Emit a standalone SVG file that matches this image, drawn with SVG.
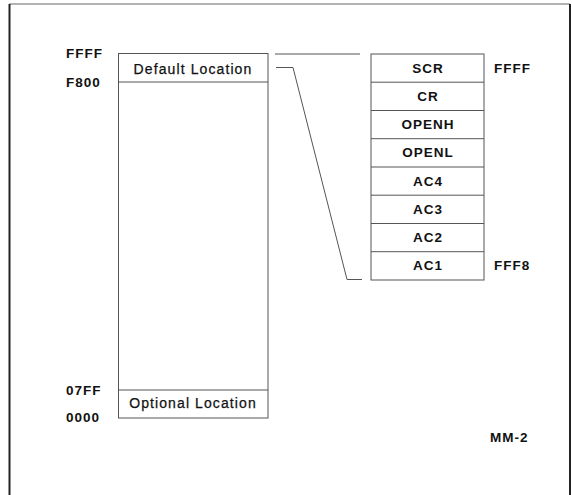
<svg xmlns="http://www.w3.org/2000/svg" width="572" height="495" viewBox="0 0 572 495">
<style>
.ln{fill:none;stroke:#555;stroke-width:1}
.bx{fill:#fff;stroke:#555;stroke-width:1}
.b{font-family:"Liberation Sans",Arial,sans-serif;font-weight:bold;font-size:13.5px;fill:#111;letter-spacing:1px}
.r{font-family:"Liberation Sans",Arial,sans-serif;font-size:14px;fill:#111;letter-spacing:1.1px;stroke:#111;stroke-width:0.25px}
.c{text-anchor:middle}
</style>
<rect width="572" height="495" fill="#fff"/>
<g id="frame">
<line x1="9" y1="4" x2="570" y2="4" stroke="#666" stroke-width="1"/>
<line x1="9.5" y1="4" x2="9.5" y2="495" stroke="#222" stroke-width="2"/>
<line x1="570" y1="4" x2="570" y2="495" stroke="#222" stroke-width="2"/>
</g>
<g id="memory-map">
<rect class="bx" x="118.5" y="53.5" width="149.5" height="364.5"/>
<line class="ln" x1="118.5" y1="82" x2="268" y2="82"/>
<line class="ln" x1="118.5" y1="390" x2="268" y2="390"/>
<text class="r c" x="193" y="74">Default Location</text>
<text class="r c" x="193" y="408">Optional Location</text>
<text class="b" x="66" y="58">FFFF</text>
<text class="b" x="66" y="87">F800</text>
<text class="b" x="66" y="395">07FF</text>
<text class="b" x="66" y="422">0000</text>
</g>
<g id="registers">
<rect class="bx" x="371" y="54" width="113" height="226"/>
<line class="ln" x1="371" y1="82.2" x2="484" y2="82.2"/>
<line class="ln" x1="371" y1="110.5" x2="484" y2="110.5"/>
<line class="ln" x1="371" y1="138.7" x2="484" y2="138.7"/>
<line class="ln" x1="371" y1="167" x2="484" y2="167"/>
<line class="ln" x1="371" y1="195.2" x2="484" y2="195.2"/>
<line class="ln" x1="371" y1="223.5" x2="484" y2="223.5"/>
<line class="ln" x1="371" y1="251.7" x2="484" y2="251.7"/>
<text class="b c" x="428" y="73">SCR</text>
<text class="b c" x="428" y="101">CR</text>
<text class="b c" x="428" y="129">OPENH</text>
<text class="b c" x="428" y="157">OPENL</text>
<text class="b c" x="428" y="186">AC4</text>
<text class="b c" x="428" y="214">AC3</text>
<text class="b c" x="428" y="242">AC2</text>
<text class="b c" x="428" y="270">AC1</text>
<text class="b" x="494" y="73">FFFF</text>
<text class="b" x="494" y="270">FFF8</text>
</g>
<g id="connectors">
<line class="ln" x1="275" y1="54" x2="360" y2="54"/>
<polyline class="ln" points="276,67.5 293,67.5 347,279.5 362,279.5"/>
</g>
<g id="label">
<text class="b" x="490" y="442">MM-2</text>
</g>
</svg>
